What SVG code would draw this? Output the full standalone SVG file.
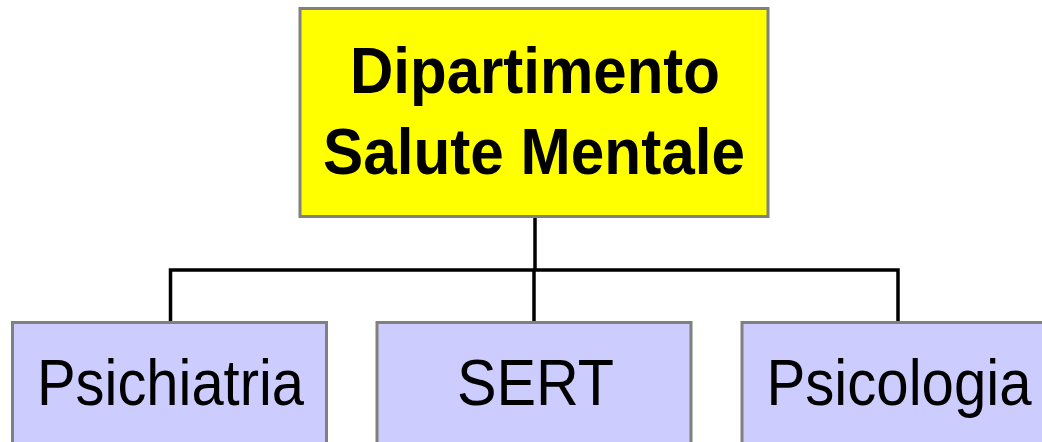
<svg xmlns="http://www.w3.org/2000/svg" width="1042" height="442" viewBox="0 0 1042 442">
<style>
.top{fill:#FFFF00;stroke:#808080;stroke-width:3}
.sub{fill:#CCCCFF;stroke:#808080;stroke-width:3}
.tb{font-family:"Liberation Sans",Arial,sans-serif;font-weight:bold;font-size:65px;fill:#000}
.tn{font-family:"Liberation Sans",Arial,sans-serif;font-size:65px;fill:#000}
.conn{fill:none;stroke:#000;stroke-width:3.5}
</style>
<rect width="1042" height="442" fill="#fff"/>
<g id="connectors">
<path class="conn" d="M535 217 V270"/>
<path class="conn" d="M170.5 322 V270 H898 V322"/>
<path class="conn" d="M534 270 V322"/>
</g>
<g id="node-dsm">
<rect class="top" x="300" y="8.5" width="468" height="208"/>
<text class="tb" x="535" y="92.5" text-anchor="middle" textLength="370" lengthAdjust="spacingAndGlyphs">Dipartimento</text>
<text class="tb" x="534" y="174" text-anchor="middle" textLength="422" lengthAdjust="spacingAndGlyphs">Salute Mentale</text>
</g>
<g id="node-psichiatria">
<rect class="sub" x="12.5" y="322.5" width="314" height="130"/>
<text class="tn" x="170.5" y="405" text-anchor="middle" textLength="267" lengthAdjust="spacingAndGlyphs">Psichiatria</text>
</g>
<g id="node-sert">
<rect class="sub" x="377" y="322.5" width="314" height="130"/>
<text class="tn" x="535.5" y="405" text-anchor="middle" textLength="157" lengthAdjust="spacingAndGlyphs">SERT</text>
</g>
<g id="node-psicologia">
<rect class="sub" x="742" y="322.5" width="314" height="130"/>
<text class="tn" x="899" y="405" text-anchor="middle" textLength="265" lengthAdjust="spacingAndGlyphs">Psicologia</text>
</g>
</svg>
